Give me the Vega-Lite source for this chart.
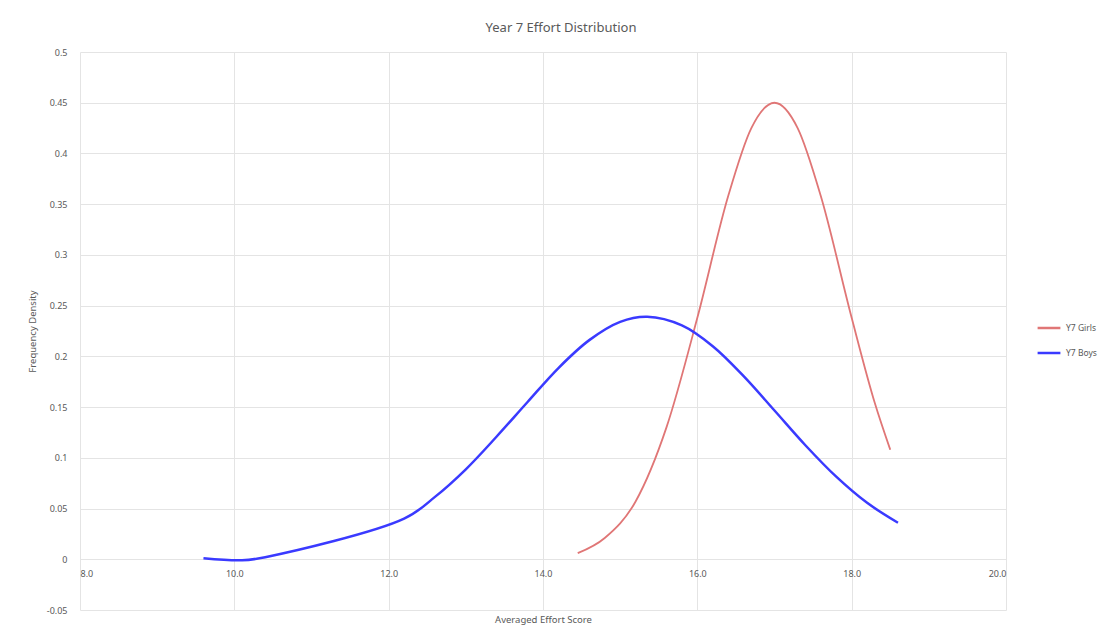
{
  "$schema": "https://vega.github.io/schema/vega-lite/v6.json",
  "autosize": {"type": "none"},
  "width": 926,
  "height": 558,
  "padding": {"left": 80, "top": 52, "right": 99, "bottom": 31},
  "background": "white",
  "title": {
    "text": "Year 7 Effort Distribution",
    "font": "Noto Sans",
    "fontSize": 13,
    "fontWeight": "normal",
    "color": "#595959",
    "anchor": "middle",
    "dx": 18,
    "offset": 13
  },
  "config": {
    "view": {"stroke": null},
    "font": "Noto Sans"
  },
  "data": {
    "values": [
      {"group": "Y7 Girls", "score": 14.45, "density": 0.006},
      {"group": "Y7 Girls", "score": 14.8, "density": 0.021},
      {"group": "Y7 Girls", "score": 15.2, "density": 0.057},
      {"group": "Y7 Girls", "score": 15.6, "density": 0.13},
      {"group": "Y7 Girls", "score": 16.0, "density": 0.238},
      {"group": "Y7 Girls", "score": 16.4, "density": 0.358},
      {"group": "Y7 Girls", "score": 16.7, "density": 0.425},
      {"group": "Y7 Girls", "score": 17.0, "density": 0.45},
      {"group": "Y7 Girls", "score": 17.3, "density": 0.425},
      {"group": "Y7 Girls", "score": 17.6, "density": 0.358},
      {"group": "Y7 Girls", "score": 18.0, "density": 0.238},
      {"group": "Y7 Girls", "score": 18.3, "density": 0.154},
      {"group": "Y7 Girls", "score": 18.5, "density": 0.108},
      {"group": "Y7 Boys", "score": 9.6, "density": 0.001},
      {"group": "Y7 Boys", "score": 10.1, "density": -0.001},
      {"group": "Y7 Boys", "score": 10.4, "density": 0.002},
      {"group": "Y7 Boys", "score": 12.2, "density": 0.04},
      {"group": "Y7 Boys", "score": 12.6, "density": 0.0615},
      {"group": "Y7 Boys", "score": 13.0, "density": 0.0887},
      {"group": "Y7 Boys", "score": 13.4, "density": 0.121},
      {"group": "Y7 Boys", "score": 13.8, "density": 0.155},
      {"group": "Y7 Boys", "score": 14.2, "density": 0.1885},
      {"group": "Y7 Boys", "score": 14.6, "density": 0.216},
      {"group": "Y7 Boys", "score": 15.0, "density": 0.234},
      {"group": "Y7 Boys", "score": 15.35, "density": 0.239},
      {"group": "Y7 Boys", "score": 15.8, "density": 0.2305},
      {"group": "Y7 Boys", "score": 16.2, "density": 0.21},
      {"group": "Y7 Boys", "score": 16.6, "density": 0.1805},
      {"group": "Y7 Boys", "score": 17.0, "density": 0.1466},
      {"group": "Y7 Boys", "score": 17.4, "density": 0.1124},
      {"group": "Y7 Boys", "score": 17.8, "density": 0.0814},
      {"group": "Y7 Boys", "score": 18.2, "density": 0.0556},
      {"group": "Y7 Boys", "score": 18.6, "density": 0.036}
    ]
  },
  "encoding": {
    "x": {
      "field": "score",
      "type": "quantitative",
      "scale": {"domain": [8, 20], "nice": false, "zero": false},
      "axis": {
        "title": "Averaged Effort Score",
        "values": [8, 10, 12, 14, 16, 18, 20],
        "format": ".1f",
        "offset": -50.5,
        "domain": false,
        "ticks": false,
        "grid": true,
        "gridColor": "#e4e4e4",
        "gridWidth": 1,
        "labelFont": "Noto Sans",
        "labelFontSize": 9,
        "labelColor": "#595959",
        "labelPadding": 10,
        "titleFont": "Noto Sans",
        "titleFontSize": 9.5,
        "titleFontWeight": "normal",
        "titleColor": "#595959",
        "titlePadding": 36
      }
    },
    "y": {
      "field": "density",
      "type": "quantitative",
      "scale": {"domain": [-0.05, 0.5], "nice": false, "zero": false},
      "axis": {
        "title": "Frequency Density",
        "values": [-0.05, 0, 0.05, 0.1, 0.15, 0.2, 0.25, 0.3, 0.35, 0.4, 0.45, 0.5],
        "labelExpr": "replace(format(datum.value, '~g'), '−', '-')",
        "domain": false,
        "ticks": false,
        "grid": true,
        "gridColor": "#e4e4e4",
        "gridWidth": 1,
        "labelFont": "Noto Sans",
        "labelFontSize": 9,
        "labelColor": "#595959",
        "labelPadding": 13,
        "titleFont": "Noto Sans",
        "titleFontSize": 9.5,
        "titleFontWeight": "normal",
        "titleColor": "#595959",
        "titlePadding": 9
      }
    },
    "color": {
      "field": "group",
      "type": "nominal",
      "scale": {"domain": ["Y7 Girls", "Y7 Boys"], "range": ["#e07676", "#3a3aff"]},
      "legend": {
        "title": null,
        "orient": "none",
        "legendX": 956,
        "legendY": 263,
        "symbolType": "stroke",
        "symbolSize": 520,
        "symbolStrokeWidth": 2.5,
        "labelFont": "Noto Sans",
        "labelFontSize": 8.5,
        "labelColor": "#595959",
        "rowPadding": 7,
        "labelOffset": 4
      }
    }
  },
  "layer": [
    {
      "transform": [{"filter": "datum.group === 'Y7 Girls'"}],
      "mark": {"type": "line", "interpolate": "monotone", "strokeWidth": 1.8}
    },
    {
      "transform": [{"filter": "datum.group === 'Y7 Boys'"}],
      "mark": {"type": "line", "interpolate": "catmull-rom", "strokeWidth": 2.5}
    }
  ]
}
